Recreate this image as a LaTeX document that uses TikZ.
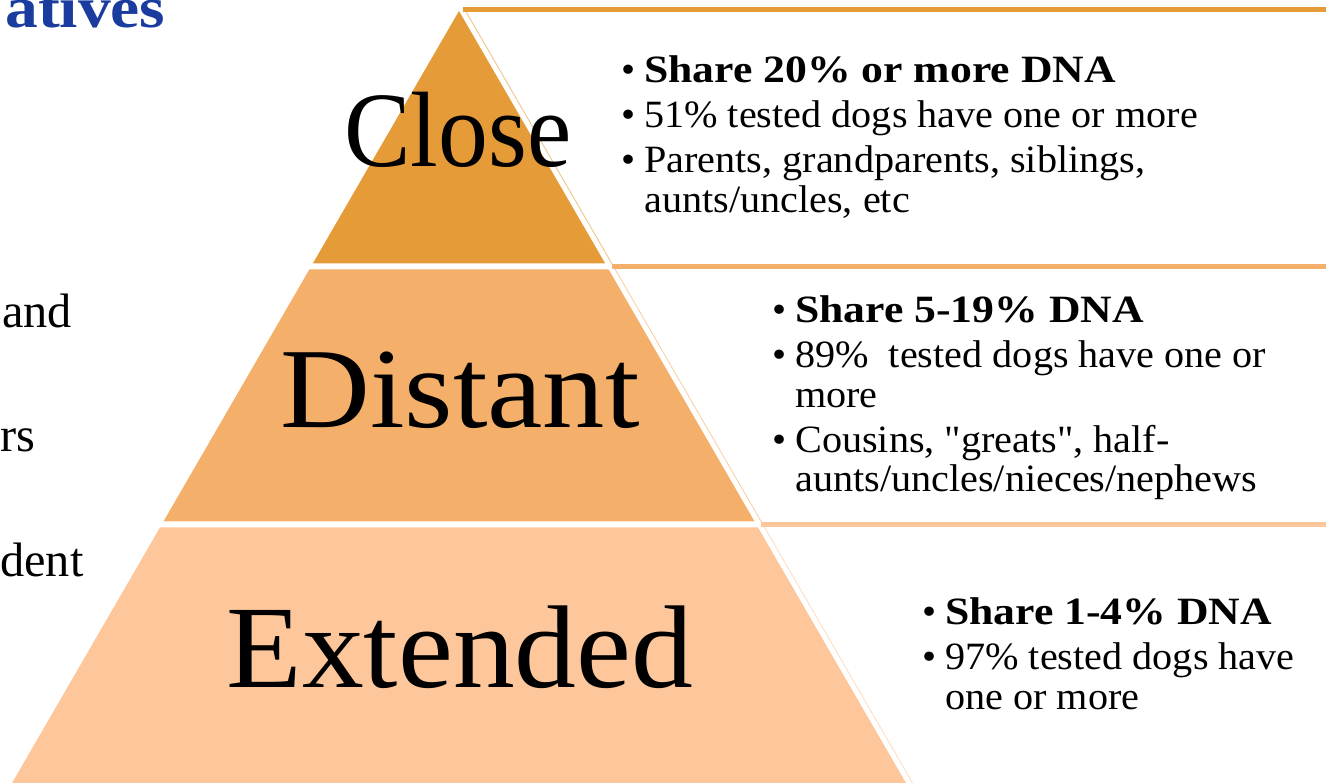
\documentclass[tikz,border=0pt]{standalone}
\usepackage{fontspec}
\usepackage{graphicx}
\setmainfont{Liberation Serif}
\newfontfamily\bulletfont{Liberation Serif}[FakeStretch=1.04]
\newfontfamily\sharefont{Liberation Serif}[FakeStretch=1.13]
\newfontfamily\headfont{Liberation Serif}[FakeStretch=1.13]
\definecolor{tierA}{RGB}{229,156,56}
\definecolor{tierB}{RGB}{244,176,106}
\definecolor{tierC}{RGB}{253,199,155}
\definecolor{headblue}{RGB}{26,60,158}
\newcommand{\share}[1]{{\sharefont\bfseries #1}}

\begin{document}
\begin{tikzpicture}[
		x=0.02cm, y=-0.02cm,
		tier label/.style={anchor=base, inner sep=0pt, font=\fontsize{#1}{#1}\selectfont},
		bullet list/.style={anchor=base west, inner sep=0pt, font=\bulletfont\fontsize{22}{22.5}\selectfont},
		side text/.style={anchor=base west, inner sep=0pt, font=\fontsize{27.5}{30}\selectfont},
		box edge/.style={line width=0.5pt},
		box top/.style={line width=2.8pt}
	]
	\useasboundingbox (0,0) rectangle (1326,783);
	\clip (0,0) rectangle (1326,783);

	% pyramid tiers
	\foreach \ytop/\ybot/\col in {11/263.5/tierA, 269.5/521.5/tierB, 527.5/790/tierC} {
		\pgfmathsetmacro\wt{0.579*(\ytop-11)}
		\pgfmathsetmacro\wb{0.579*(\ybot-11)}
		\fill [\col] (459-\wt, \ytop) -- (459+\wt, \ytop) -- (459+\wb, \ybot) -- (459-\wb, \ybot) -- cycle;
	}

	% text boxes
	\foreach \ytop/\ybot/\col in {9.5/264/tierA, 266.5/522/tierB, 524.5/790/tierC} {
		\pgfmathsetmacro\xt{465+0.579*(\ytop-10)}
		\pgfmathsetmacro\xb{465+0.579*(\ybot-10)}
		\draw [box edge, \col!60] (\xt, \ytop) -- (\xb, \ybot);
		\draw [box top, \col] (\xt-2, \ytop) -- (1340, \ytop);
	}

	\node [tier label=61] (close) at (458, 167) {\scalebox{0.93}[1]{Close}};
	\node [tier label=65] (distant) at (460, 428) {\scalebox{1.09}[1]{Distant}};
	\node [tier label=67] (extended) at (460, 688) {\scalebox{1.05}[1]{Extended}};

	\node [bullet list] (close-list) at (621, 83) {\begin{tabular}[t]{@{}l@{\hspace{5pt}}l@{}}
		\textbullet & \share{Share 20\% or more DNA}\\[3pt]
		\textbullet & 51\% tested dogs have one or more\\[3pt]
		\textbullet & Parents, grandparents, siblings,\\
		& aunts/uncles, etc
	\end{tabular}};

	\node [bullet list] (distant-list) at (772, 323) {\begin{tabular}[t]{@{}l@{\hspace{5pt}}l@{}}
		\textbullet & \share{Share 5-19\% DNA}\\[3pt]
		\textbullet & 89\%~ tested dogs have one or\\
		& more\\[3pt]
		\textbullet & Cousins, "greats", half-\\
		& aunts/uncles/nieces/nephews
	\end{tabular}};

	\node [bullet list] (extended-list) at (922, 625) {\begin{tabular}[t]{@{}l@{\hspace{5pt}}l@{}}
		\textbullet & \share{Share 1-4\% DNA}\\[3pt]
		\textbullet & 97\% tested dogs have\\
		& one or more
	\end{tabular}};

	% cut-off slide text on the left
	\node [anchor=base west, inner sep=0pt, text=headblue, font=\headfont\bfseries\fontsize{33}{35}\selectfont] (head-frag) at (5, 28) {atives};
	\node [side text] (and-frag) at (2, 328) {and};
	\node [side text] (rs-frag) at (0, 452) {rs};
	\node [side text] (dent-frag) at (0, 577) {dent};
\end{tikzpicture}
\end{document}
